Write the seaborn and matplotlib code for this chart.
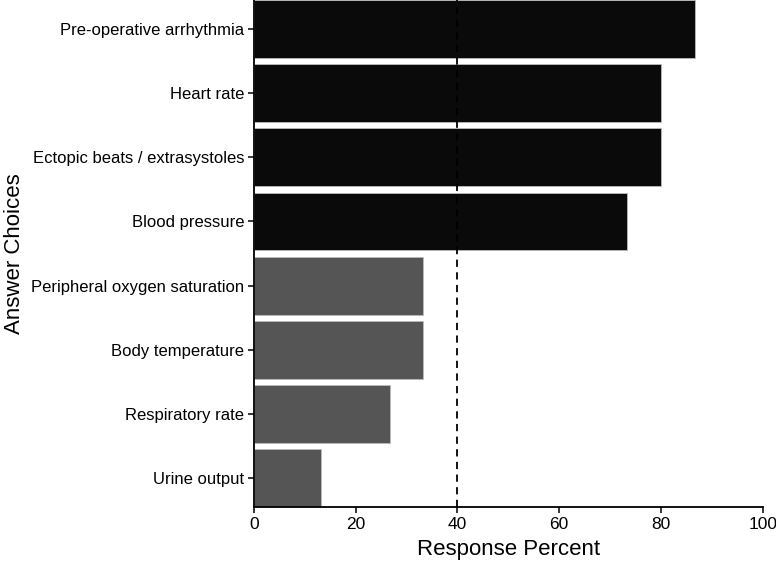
import pandas as pd
import numpy as np
import matplotlib
matplotlib.use('Agg')
import matplotlib.pyplot as plt
import seaborn as sns

# データ
choices = [
    'Pre-operative arrhythmia',
    'Heart rate',
    'Ectopic beats / extrasystoles',
    'Blood pressure',
    'Peripheral oxygen saturation',
    'Body temperature',
    'Respiratory rate',
    'Urine output',
]
percent = [86.7, 80.0, 80.0, 73.3, 33.3, 33.3, 26.7, 13.3]
threshold = 40
x_ticks = [0, 20, 40, 60, 80, 100]

df = pd.DataFrame({'Answer Choices': choices, 'Response Percent': percent})
df['group'] = np.where(df['Response Percent'] > threshold, 'above', 'below')

# プロットの設定
sns.set_theme(style='ticks')
plt.rcParams['font.family'] = ['Liberation Sans', 'DejaVu Sans']

fig = plt.figure(figsize=(7.76, 5.61), dpi=100)
ax = fig.add_axes([0.327, 0.096, 0.656, 0.904])

sns.barplot(data=df, y='Answer Choices', x='Response Percent', hue='group',
            palette={'above': '#0a0a0a', 'below': '#555555'},
            orient='h', width=0.9, dodge=False, legend=False,
            edgecolor='#bbbbbb', linewidth=0.6, ax=ax)

ax.axvline(threshold, color='black', linestyle=(0, (4, 3)), linewidth=1.3)

ax.set_xlim(0, 100)
ax.set_ylim(len(choices) - 0.55, -0.45)
ax.set_xticks(x_ticks)
ax.tick_params(axis='both', labelsize=12, colors='black', length=4, width=1.1, pad=3)
ax.tick_params(axis='x', labelsize=12.5)
ax.set_xlabel('Response Percent', fontsize=16, labelpad=5, color='black')
ax.set_ylabel('Answer Choices', fontsize=16, labelpad=4, color='black')

sns.despine(ax=ax)
for side in ['left', 'bottom']:
    ax.spines[side].set_linewidth(1.3)
    ax.spines[side].set_color('black')

fig.savefig('out.png', dpi=100)
